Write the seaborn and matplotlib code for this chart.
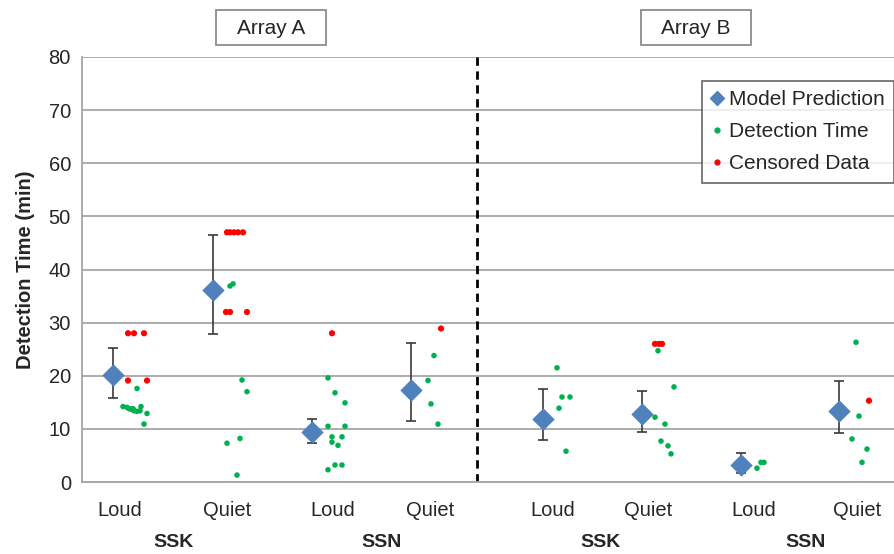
import numpy as np
import pandas as pd
import seaborn as sns
import matplotlib.pyplot as plt
from matplotlib.lines import Line2D
from matplotlib.patches import Rectangle

# model predictions with error bars
model_x = [0.31, 1.31, 2.30, 3.29, 4.61, 5.60, 6.59, 7.57]
model_y = [20.2, 36.1, 9.4, 17.4, 11.9, 12.8, 3.2, 13.4]
model_hi = [25.3, 46.5, 11.8, 26.2, 17.6, 17.1, 5.5, 19.0]
model_lo = [15.9, 27.9, 7.3, 11.5, 7.85, 9.5, 1.75, 9.2]

# detection times (green)
det_x = [0.55, 0.41, 0.45, 0.47, 0.49, 0.51, 0.52, 0.55, 0.58, 0.59, 0.65, 0.62,
         1.48, 1.51, 1.60, 1.65, 1.45, 1.58, 1.55,
         2.46, 2.53, 2.63, 2.46, 2.63, 2.50, 2.60, 2.50, 2.56, 2.53, 2.60, 2.46,
         3.52, 3.46, 3.49, 3.56,
         4.75, 4.80, 4.88, 4.77, 4.84,
         5.76, 5.92, 5.73, 5.83, 5.79, 5.86, 5.89,
         6.75, 6.79, 6.82,
         7.74, 7.77, 7.70, 7.85, 7.80]
det_y = [17.6, 14.2, 14.05, 13.8, 13.7, 13.8, 13.4, 13.3, 13.4, 14.2, 12.9, 10.9,
         36.9, 37.3, 19.2, 17.0, 7.3, 8.2, 1.3,
         19.6, 16.8, 14.9, 10.5, 10.5, 8.5, 8.5, 7.5, 6.9, 3.2, 3.2, 2.3,
         23.8, 19.1, 14.7, 10.9,
         21.5, 16.0, 16.0, 13.9, 5.8,
         24.7, 17.9, 12.2, 10.9, 7.7, 6.8, 5.3,
         2.6, 3.7, 3.7,
         26.3, 12.4, 8.1, 6.2, 3.7]

# censored data (red)
cens_x = [0.46, 0.52, 0.62, 0.46, 0.65,
          1.45, 1.48, 1.52, 1.56, 1.61, 1.44, 1.48, 1.65,
          2.50, 3.59,
          5.73, 5.77, 5.80,
          7.87]
cens_y = [28, 28, 28, 19.1, 19.1,
          47, 47, 47, 47, 47, 32, 32, 32,
          28, 28.9,
          26, 26, 26,
          15.3]

cat_pos = [0.38, 1.45, 2.51, 3.48, 4.71, 5.66, 6.72, 7.75]
cat_labels = ['Loud', 'Quiet', 'Loud', 'Quiet', 'Loud', 'Quiet', 'Loud', 'Quiet']
group_labels = ['SSK', 'SSN', 'SSK', 'SSN']
array_labels = ['Array A', 'Array B']

det = pd.DataFrame({'x': det_x, 'y': det_y})
cens = pd.DataFrame({'x': cens_x, 'y': cens_y})
model = pd.DataFrame({'x': model_x, 'y': model_y, 'hi': model_hi, 'lo': model_lo})

sns.set_style('white')
plt.rcParams['font.family'] = ['Liberation Sans', 'DejaVu Sans']

fig = plt.figure(figsize=(8.95, 5.54), dpi=100)
ax = fig.add_axes([82 / 895, 72 / 554, 813 / 895, 425 / 554])

blue = '#4F81BD'
green = '#00B050'
red = '#FF0000'
fs = 14.5

# error bars then diamonds
ax.errorbar(model['x'], model['y'],
            yerr=[model['y'] - model['lo'], model['hi'] - model['y']],
            fmt='none', ecolor='#3a3a3a', elinewidth=1.2, capsize=3.8, capthick=1.2, zorder=3)
sns.scatterplot(data=model, x='x', y='y', marker='D', s=130, color=blue,
                edgecolor=blue, linewidth=0, ax=ax, zorder=4)
sns.scatterplot(data=det, x='x', y='y', s=16, color=green, edgecolor='none', ax=ax, zorder=5)
sns.scatterplot(data=cens, x='x', y='y', s=20, color=red, edgecolor='none', ax=ax, zorder=5)

# divider
ax.axvline(3.95, color='black', lw=2, dashes=(3, 2), zorder=2)

ax.set_xlim(0, 8.13)
ax.set_ylim(0, 80)
ax.set_yticks(np.arange(0, 81, 10))
ax.yaxis.grid(True, color='#A6A6A6', lw=1.3)
ax.set_axisbelow(True)
for s in ['top', 'right']:
    ax.spines[s].set_visible(False)
for s in ['left', 'bottom']:
    ax.spines[s].set_color('#A6A6A6')
    ax.spines[s].set_linewidth(1.3)

ax.set_xticks(cat_pos)
ax.set_xticklabels(cat_labels, fontsize=fs)
ax.tick_params(axis='x', length=0, pad=14)
ax.tick_params(axis='y', length=0, labelsize=fs, pad=8)
ax.set_xlabel('')
ax.set_ylabel('Detection Time (min)', fontsize=14.5, fontweight='bold', labelpad=10)

trans = ax.get_xaxis_transform()
for i, lab in enumerate(group_labels):
    xm = (cat_pos[2 * i] + cat_pos[2 * i + 1]) / 2
    ax.text(xm, -0.143, lab, transform=trans, ha='center', va='center',
            fontsize=14, fontweight='bold')

# array boxes
for lab, left in zip(array_labels, [216, 641]):
    fig.patches.append(Rectangle((left / 895, 1 - 45 / 554), 110 / 895, 35 / 554,
                                 transform=fig.transFigure, fill=False,
                                 edgecolor='#8c8c8c', lw=1.3))
    fig.text((left + 55) / 895, 1 - 28 / 554, lab, ha='center', va='center', fontsize=15)

handles = [
    Line2D([], [], marker='D', color=blue, ls='none', markersize=7.5),
    Line2D([], [], marker='o', color=green, ls='none', markersize=3.5),
    Line2D([], [], marker='o', color=red, ls='none', markersize=3.5),
]
leg = ax.legend(handles, ['Model Prediction', 'Detection Time', 'Censored Data'],
                loc='upper right', bbox_to_anchor=(812 / 813, 1 - 24 / 425),
                fontsize=15, frameon=True, fancybox=False, handlelength=0.6,
                handletextpad=0.25, labelspacing=0.62, borderpad=0.45, borderaxespad=0)
leg.get_frame().set_edgecolor('#404040')
leg.get_frame().set_linewidth(1.2)

fig.savefig('out.png', dpi=100)
